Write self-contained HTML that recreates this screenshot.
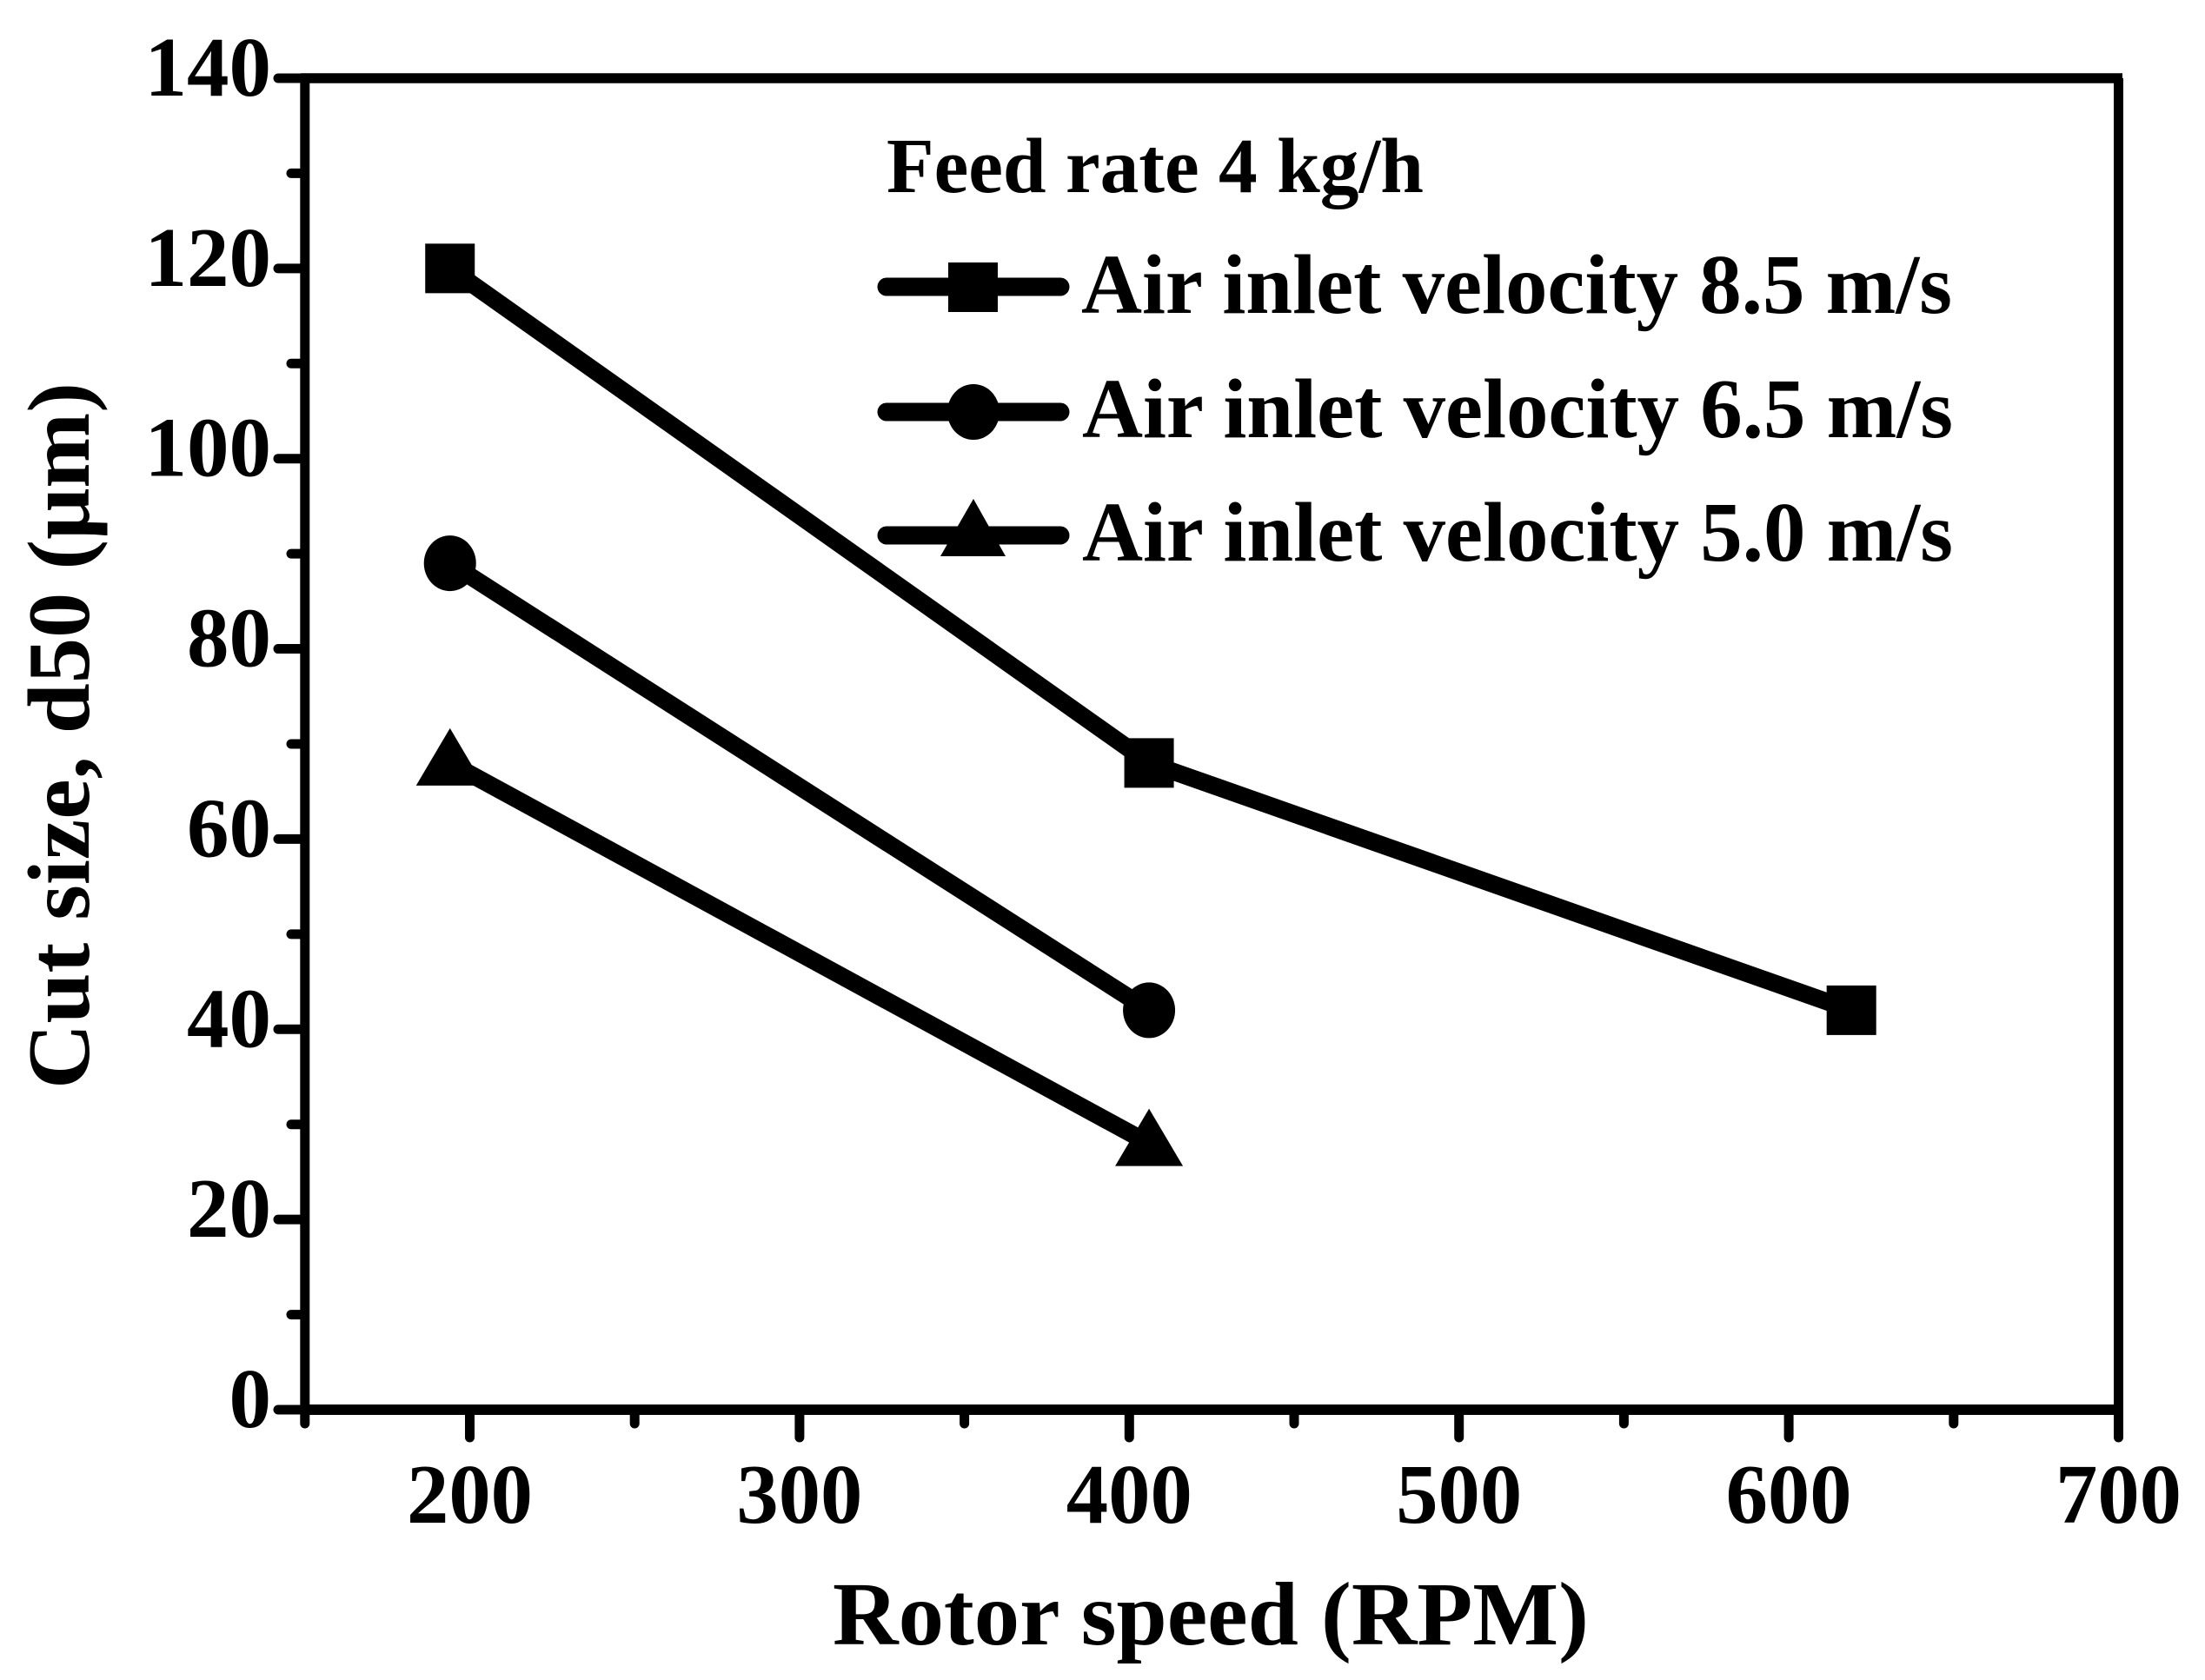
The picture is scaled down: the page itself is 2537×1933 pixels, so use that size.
<!DOCTYPE html>
<html lang="en">
<head>
<meta charset="utf-8">
<title>Cut size vs rotor speed</title>
<style>
html,body{margin:0;padding:0;background:#fff;width:2537px;height:1933px;overflow:hidden}
svg{display:block}
text{font-family:"Liberation Serif","Noto Serif CJK SC",serif;font-weight:bold;fill:#000}
</style>
</head>
<body>
<svg id="chart" xmlns="http://www.w3.org/2000/svg" width="2537" height="1933" viewBox="0 0 2537 1933">
  <rect x="0" y="0" width="2537" height="1933" fill="#fff"/>
  <g id="series-layer"></g>
  <g id="axes-layer"></g>
  <text x="958" y="1892" font-size="104" textLength="870" lengthAdjust="spacingAndGlyphs">Rotor speed (RPM)</text>
  <text transform="translate(102,1253) rotate(-90)" font-size="102" textLength="813" lengthAdjust="spacingAndGlyphs">Cut size, d50 (μm)</text>
  <g>
    <text x="1020" y="221" font-size="90" textLength="618" lengthAdjust="spacingAndGlyphs">Feed rate 4 kg/h</text>
    <g>
      <line x1="1020" x2="1220" y1="330" y2="330" stroke="#000" stroke-width="21" stroke-linecap="round"/>
      <rect x="1091" y="302" width="57" height="57" fill="#000"/>
      <text x="1244" y="360" font-size="97" textLength="1002" lengthAdjust="spacingAndGlyphs">Air inlet velocity 8.5 m/s</text>
    </g>
    <g>
      <line x1="1020" x2="1220" y1="474" y2="474" stroke="#000" stroke-width="21" stroke-linecap="round"/>
      <ellipse cx="1120" cy="474" rx="30" ry="32" fill="#000"/>
      <text x="1245" y="503" font-size="97" textLength="1002" lengthAdjust="spacingAndGlyphs">Air inlet velocity 6.5 m/s</text>
    </g>
    <g>
      <line x1="1020" x2="1220" y1="616" y2="616" stroke="#000" stroke-width="21" stroke-linecap="round"/>
      <polygon points="1120,574 1157,640 1082,640" fill="#000"/>
      <text x="1245" y="645" font-size="97" textLength="1002" lengthAdjust="spacingAndGlyphs">Air inlet velocity 5.0 m/s</text>
    </g>
  </g>
</svg>
<script>
const xTickLabels = [200, 300, 400, 500, 600, 700];
const xMinorTicks = [150, 250, 350, 450, 550, 650];
const yTickLabels = [0, 20, 40, 60, 80, 100, 120, 140];
const yMinorTicks = [10, 30, 50, 70, 90, 110, 130];
const speed85 = [194, 406, 619];
const cut85 = [120, 68, 42];
const speed65 = [194, 406];
const cut65 = [89, 42];
const speed50 = [194, 406];
const cut50 = [68, 28];

const NS = 'http://www.w3.org/2000/svg';
const xPos = v => 540.5 + (v - 200) * 3.794;
const yPos = v => 1622 - v * 10.943;
const axes = document.getElementById('axes-layer');
const seriesLayer = document.getElementById('series-layer');

function make(tag, attrs, parent) {
  const el = document.createElementNS(NS, tag);
  for (const k in attrs) el.setAttribute(k, attrs[k]);
  parent.appendChild(el);
  return el;
}

function drawLine(parent, x1, y1, x2, y2, w, cap, name) {
  const el = make('line', {x1: x1, y1: y1, x2: x2, y2: y2, stroke: '#000', 'stroke-width': w, 'stroke-linecap': cap}, parent);
  
  
}

function drawLabel(parent, x, y, str, anchor, width, name) {
  const el = make('text', {x: x, y: y, 'font-size': 97, 'text-anchor': anchor, textLength: width, lengthAdjust: 'spacingAndGlyphs'}, parent);
  el.textContent = str;
  
  
}

// plot frame
drawLine(axes, 346, yPos(140), 2442, yPos(140), 11.5, 'butt', 'top-axis');
drawLine(axes, 346, yPos(0), 2442, yPos(0), 12, 'butt', 'bottom-axis');
drawLine(axes, xPos(150), yPos(140), xPos(150), yPos(0), 11, 'butt', 'left-axis');
drawLine(axes, xPos(700), yPos(140), xPos(700), yPos(0), 11, 'butt', 'right-axis');

// y ticks
yTickLabels.forEach(v => {
  drawLine(axes, 320, yPos(v), 350, yPos(v), 11, 'round', 'y-major-tick');
  const w = String(v).length * 48.5;
  drawLabel(axes, 312, yPos(v) + 20, String(v), 'end', w, 'y-tick-label');
});
yMinorTicks.forEach(v => {
  drawLine(axes, 335, yPos(v), 350, yPos(v), 11, 'round', 'y-minor-tick');
});

// x ticks
xTickLabels.forEach(v => {
  drawLine(axes, xPos(v), 1622, xPos(v), 1654, 11, 'round', 'x-major-tick');
  drawLabel(axes, xPos(v), 1752, String(v), 'middle', 145, 'x-tick-label');
});
xMinorTicks.forEach(v => {
  drawLine(axes, xPos(v), 1622, xPos(v), 1638, 11, 'round', 'x-minor-tick');
});

// series
function drawSeries(xs, ys, shape, name) {
  const g = make('g', {}, seriesLayer);
  
  
  const pts = xs.map((x, i) => xPos(x) + ',' + yPos(ys[i])).join(' ');
  const line = make('polyline', {points: pts, fill: 'none', stroke: '#000', 'stroke-width': 20, 'stroke-linejoin': 'miter'}, g);
  
  
  xs.forEach((x, i) => {
    const cx = xPos(x), cy = yPos(ys[i]);
    let m;
    if (shape === 'square') {
      m = make('rect', {x: cx - 28.5, y: cy - 28.5, width: 57, height: 57, fill: '#000'}, g);
    } else if (shape === 'circle') {
      m = make('ellipse', {cx: cx, cy: cy, rx: 30, ry: 32, fill: '#000'}, g);
    } else {
      m = make('polygon', {points: cx + ',' + (cy - 40) + ' ' + (cx + 39) + ',' + (cy + 26) + ' ' + (cx - 39) + ',' + (cy + 26), fill: '#000'}, g);
    }
    
    
  });
}

drawSeries(speed85, cut85, 'square', 'series-8-5');
drawSeries(speed65, cut65, 'circle', 'series-6-5');
drawSeries(speed50, cut50, 'triangle', 'series-5-0');
</script>
</body>
</html>
